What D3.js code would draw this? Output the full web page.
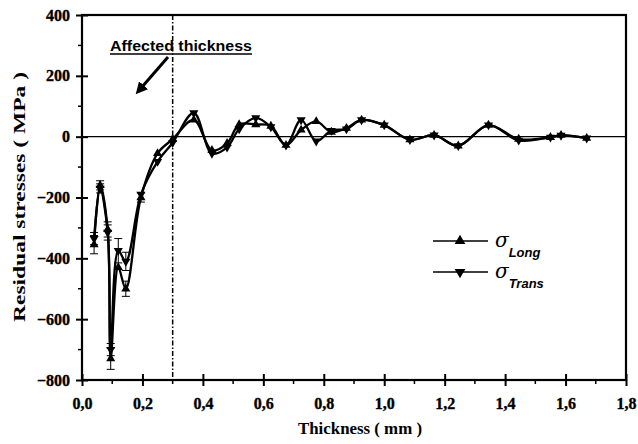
<!DOCTYPE html>
<html>

<head>
  <meta charset="UTF-8">
  <title>Residual stresses</title>
  <style>
    body { margin: 0; background: #fff; }
    svg { display: block; }
    .tick text { font-family: "Liberation Serif", serif; font-weight: bold; font-size: 16px; stroke: #000; stroke-width: 0.35; }
  </style>
</head>

<body>
  <script src="https://cdn.jsdelivr.net/npm/d3@7"></script>
  <script>
    const width = 638,
      height = 444

    // depth of each measurement (mm)
    const depth = [0.04, 0.06, 0.085, 0.095, 0.12, 0.145, 0.195, 0.25, 0.30, 0.37, 0.43, 0.48, 0.52, 0.575,
      0.625, 0.675, 0.725, 0.775, 0.825, 0.875, 0.925, 1.0, 1.085, 1.165, 1.245, 1.345, 1.445, 1.55, 1.585, 1.67]
    // sigma long (MPa)
    const sigLong = [-355, -160, -305, -730, -430, -500, -200, -55, -8, 55, -45, -22, 40, 40,
      35, -28, 22, 50, 15, 28, 55, 38, -10, 5, -30, 38, -8, -2, 5, -5]
    // sigma trans (MPa)
    const sigTrans = [-335, -170, -315, -700, -375, -410, -190, -82, -20, 78, -55, -35, 25, 62,
      32, -28, 55, -15, 20, 25, 55, 38, -10, 5, -30, 38, -12, -2, 4, -5]
    // error bars (MPa), 0 = none
    const errLong = [30, 15, 25, 35, 0, 25, 15, 0, 0, 0, 0, 0, 0, 0, 0, 0, 0, 0, 0, 0, 0, 0, 0, 0, 0, 0, 0, 0, 0, 0]
    const errTrans = [20, 15, 25, 20, 40, 30, 0, 0, 0, 0, 0, 0, 0, 0, 0, 0, 0, 0, 0, 0, 0, 0, 0, 0, 0, 0, 0, 0, 0, 0]

    const xTicks = [0, 0.2, 0.4, 0.6, 0.8, 1.0, 1.2, 1.4, 1.6, 1.8]
    const yTicks = [-800, -600, -400, -200, 0, 200, 400]
    const xMinor = [0.1, 0.3, 0.5, 0.7, 0.9, 1.1, 1.3, 1.5, 1.7]
    const yMinor = [-700, -500, -300, -100, 100, 300]
    const affected = 0.3

    const L = 82, R = 626, T = 15, B = 380

    const svg = d3.select('body')
      .append('svg')
      .attr('width', width)
      .attr('height', height)

    const x = d3.scaleLinear().domain([0, 1.8]).range([L, R])
    const y = d3.scaleLinear().domain([-800, 400]).range([B, T])

    // zero line and affected thickness line
    svg.append('line')
      .attr('x1', L).attr('x2', R)
      .attr('y1', y(0)).attr('y2', y(0))
      .attr('stroke', '#000').attr('stroke-width', 1.3)

    svg.append('line')
      .attr('x1', x(affected)).attr('x2', x(affected))
      .attr('y1', T).attr('y2', B)
      .attr('stroke', '#000').attr('stroke-width', 1.5)
      .attr('stroke-dasharray', '5,2,1.5,2')

    // axes
    const xAxis = svg.append('g')
      .attr('transform', `translate(0, ${B})`)
      .call(d3.axisBottom(x).tickValues(xTicks).tickSize(6).tickPadding(12)
        .tickFormat(d => d.toFixed(1).replace('.', ',')))
    xAxis.selectAll('.tick line').attr('y1', -6).attr('stroke-width', 2)
    xAxis.select('.domain').remove()

    const yAxis = svg.append('g')
      .attr('transform', `translate(${L}, 0)`)
      .call(d3.axisLeft(y).tickValues(yTicks).tickSize(6).tickPadding(6))
    yAxis.selectAll('.tick line').attr('x1', 6).attr('stroke-width', 2)
    yAxis.select('.domain').remove()

    svg.selectAll('.xminor')
      .data(xMinor).enter()
      .append('line')
      .attr('x1', d => x(d)).attr('x2', d => x(d))
      .attr('y1', B).attr('y2', B + 4)
      .attr('stroke', '#000').attr('stroke-width', 1.5)

    svg.selectAll('.yminor')
      .data(yMinor).enter()
      .append('line')
      .attr('x1', L - 4).attr('x2', L)
      .attr('y1', d => y(d)).attr('y2', d => y(d))
      .attr('stroke', '#000').attr('stroke-width', 1.5)

    // frame
    svg.append('rect')
      .attr('x', L).attr('y', T)
      .attr('width', R - L).attr('height', B - T)
      .attr('fill', 'none')
      .attr('stroke', '#000').attr('stroke-width', 2.2)

    // series
    const series = [
      { vals: sigLong, err: errLong, rot: 0 },
      { vals: sigTrans, err: errTrans, rot: 180 }
    ]

    const line = d3.line()
      .x(d => x(d[0]))
      .y(d => y(d[1]))
      .curve(d3.curveCatmullRom.alpha(0.5))

    series.forEach(s => {
      const pts = depth.map((d, i) => [d, s.vals[i], s.err[i]])

      svg.append('path')
        .datum(pts)
        .attr('d', line)
        .attr('fill', 'none')
        .attr('stroke', '#000')
        .attr('stroke-width', 2.3)

      const eb = svg.append('g')
        .selectAll('g')
        .data(pts.filter(p => p[2] > 0)).enter()
        .append('g')
        .attr('stroke', '#000').attr('stroke-width', 1)
      eb.append('line')
        .attr('x1', d => x(d[0])).attr('x2', d => x(d[0]))
        .attr('y1', d => y(d[1] - d[2])).attr('y2', d => y(d[1] + d[2]))
      eb.append('line')
        .attr('x1', d => x(d[0]) - 4).attr('x2', d => x(d[0]) + 4)
        .attr('y1', d => y(d[1] - d[2])).attr('y2', d => y(d[1] - d[2]))
      eb.append('line')
        .attr('x1', d => x(d[0]) - 4).attr('x2', d => x(d[0]) + 4)
        .attr('y1', d => y(d[1] + d[2])).attr('y2', d => y(d[1] + d[2]))

      svg.append('g')
        .selectAll('path')
        .data(pts).enter()
        .append('path')
        .attr('d', d3.symbol(d3.symbolTriangle, 36))
        .attr('transform', d => `translate(${x(d[0])}, ${y(d[1])}) rotate(${s.rot})`)
        .attr('fill', '#000')
    })

    // annotation
    svg.append('text')
      .attr('x', 110).attr('y', 51)
      .attr('font-family', '"Liberation Sans", Arial, sans-serif')
      .attr('font-weight', 'bold')
      .attr('font-size', 15)
      .attr('textLength', 142)
      .attr('lengthAdjust', 'spacingAndGlyphs')
      .text('Affected thickness')
    svg.append('line')
      .attr('x1', 110).attr('x2', 252)
      .attr('y1', 54).attr('y2', 54)
      .attr('stroke', '#000').attr('stroke-width', 1.5)

    svg.append('defs').append('marker')
      .attr('id', 'head')
      .attr('viewBox', '0 0 10 10')
      .attr('refX', 2).attr('refY', 5)
      .attr('markerWidth', 4).attr('markerHeight', 4)
      .attr('orient', 'auto')
      .append('path')
      .attr('d', 'M0,0L10,5L0,10z')
      .attr('fill', '#000')
    svg.append('line')
      .attr('x1', 168).attr('y1', 57)
      .attr('x2', 142).attr('y2', 87)
      .attr('stroke', '#000').attr('stroke-width', 3)
      .attr('marker-end', 'url(#head)')

    // legend
    const legend = [
      { name: 'Long', rot: 0 },
      { name: 'Trans', rot: 180 }
    ]
    const lg = svg.selectAll('.legend')
      .data(legend).enter()
      .append('g')
      .attr('transform', (d, i) => `translate(0, ${241 + i * 31})`)
    lg.append('line')
      .attr('x1', 433).attr('x2', 488)
      .attr('stroke', '#000').attr('stroke-width', 1.5)
    lg.append('path')
      .attr('d', d3.symbol(d3.symbolTriangle, 50))
      .attr('transform', d => `translate(460, 0) rotate(${d.rot})`)
    const lt = lg.append('text')
      .attr('x', 495).attr('y', 6)
      .attr('font-family', '"DejaVu Serif", serif')
      .attr('font-style', 'italic')
      .attr('font-size', 20)
      .text('σ')
    lt.append('tspan')
      .attr('dy', 10)
      .attr('font-family', '"Liberation Sans", Arial, sans-serif')
      .attr('font-weight', 'bold')
      .attr('font-size', 13)
      .text(d => d.name)

    // axis titles
    svg.append('text')
      .attr('x', 360).attr('y', 434)
      .attr('text-anchor', 'middle')
      .attr('font-family', '"Liberation Serif", serif')
      .attr('font-weight', 'bold')
      .attr('font-size', 16)
      .attr('textLength', 124)
      .attr('lengthAdjust', 'spacingAndGlyphs')
      .text('Thickness ( mm )')

    svg.append('text')
      .attr('transform', 'translate(25, 197) rotate(-90)')
      .attr('text-anchor', 'middle')
      .attr('font-family', '"Liberation Serif", serif')
      .attr('font-weight', 'bold')
      .attr('font-size', 16)
      .attr('textLength', 250)
      .attr('lengthAdjust', 'spacingAndGlyphs')
      .text('Residual stresses ( MPa )')
  </script>
</body>

</html>
